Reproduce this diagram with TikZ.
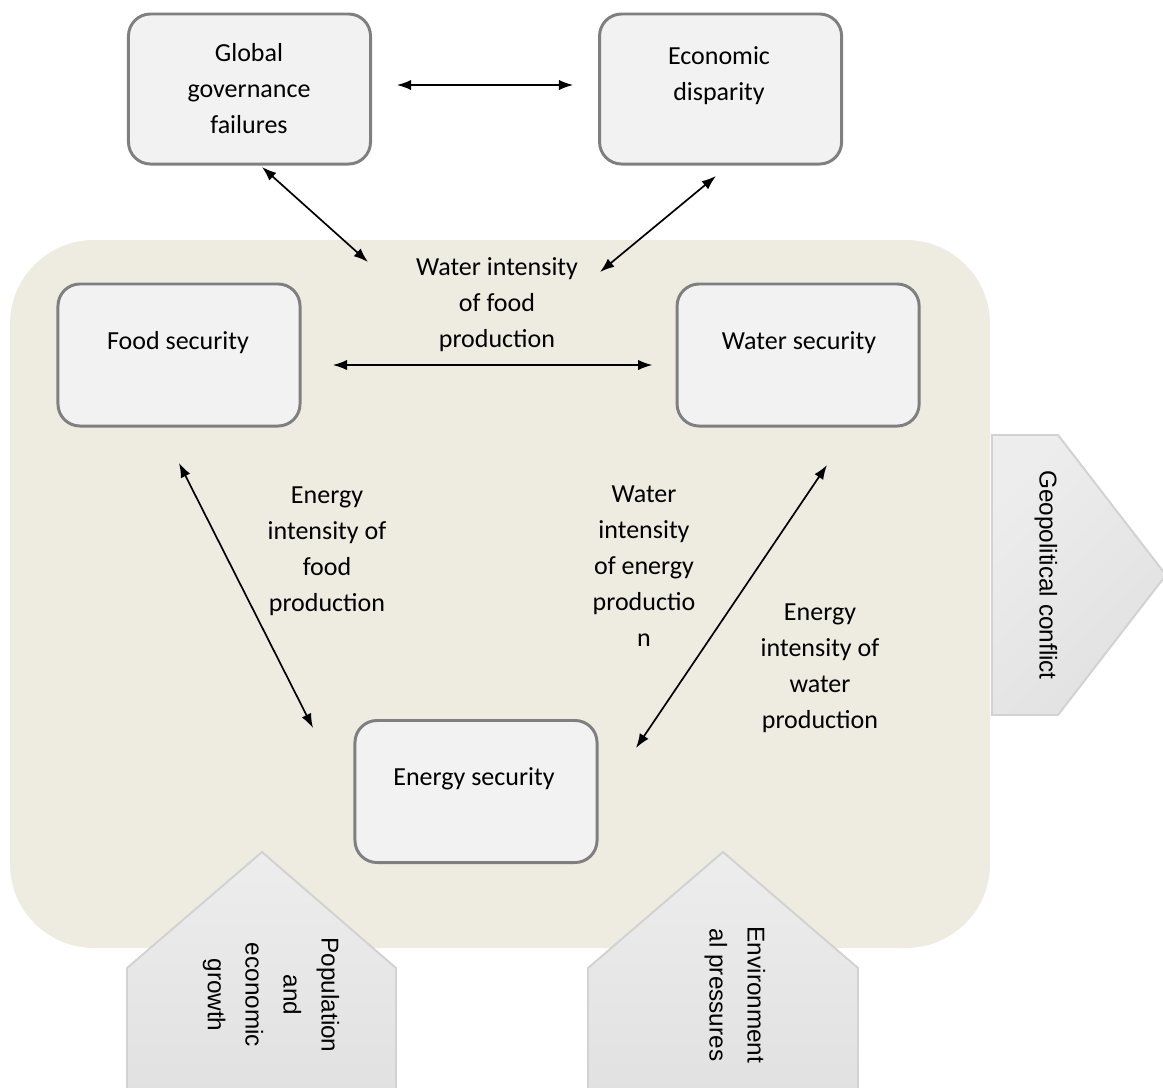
\documentclass[tikz,border=0pt]{standalone}
\usepackage{fontspec}
\setmainfont{Carlito}
\newfontfamily\arrowfont{Liberation Sans}
\usetikzlibrary{positioning,arrows.meta}

\definecolor{nexusbg}{HTML}{EEEBE0}
\definecolor{boxfill}{HTML}{F2F2F2}
\definecolor{boxline}{HTML}{7F7F7F}
\definecolor{drvline}{HTML}{D2D2D2}
\definecolor{drvtop}{HTML}{EDEDED}
\definecolor{drvbot}{HTML}{E1E1E1}

\begin{document}
\begin{tikzpicture}[x=0.025cm, y=-0.025cm,
	secbox/.style={draw=boxline, fill=boxfill, line width=2.1pt, rounded corners=0.55cm,
		minimum width=6.05cm, minimum height=3.55cm, inner sep=0pt},
	topbox/.style={secbox, minimum height=3.75cm},
	lbl/.style={align=center, font=\fontsize{18.5}{25.6}\selectfont, inner sep=0pt},
	drvtxt/.style={align=center, rotate=-90, font=\arrowfont\fontsize{17.3}{27}\selectfont, inner sep=0pt},
	driver/.style={draw=drvline, line width=1.4pt, top color=drvtop, bottom color=drvbot},
	link/.style={{Latex[length=0.36cm,width=0.26cm]}-{Latex[length=0.36cm,width=0.26cm]}, line width=1.2pt}]
	
	\useasboundingbox (0,0) rectangle (1163,1087);
	\clip (0,0) rectangle (1163,1087);
	
	% the nexus
	\fill[nexusbg, rounded corners=2.1cm] (10,240) rectangle (990,948);
	
	% drivers
	\draw[driver, shading angle=45] (992,435) -- (1058,435) -- (1166,575) -- (1058,715) -- (992,715) -- cycle;
	\draw[driver] (127,1095) -- (127,968) -- (262,852) -- (396,968) -- (396,1095) -- cycle;
	\draw[driver] (588,1095) -- (588,968) -- (723,852) -- (858,968) -- (858,1095) -- cycle;
	
	\node[drvtxt] (geo) at (1046,575) {Geopolitical conflict};
	\node[drvtxt] (pop) at (271,995) {Population\\and\\economic\\growth};
	\node[drvtxt] (env) at (735,995) {Environment\\al pressures};
	
	% boxes
	\node[topbox] (gov) at (249.5,89) {};
	\node[topbox, right=5.65cm of gov] (econ) {};
	\node[secbox] (food) at (179,355) {};
	\node[secbox, right=9.35cm of food] (water) {};
	\node[secbox] (energy) at (476,791.5) {};
	
	\node[lbl] (gov-t) at (249,89) {Global\\governance\\failures};
	\node[lbl] (econ-t) at (719,76) {Economic\\disparity};
	\node[lbl] (food-t) at (178,343) {Food security};
	\node[lbl] (water-t) at (799,343) {Water security};
	\node[lbl] (energy-t) at (474,779) {Energy security};
	
	% links
	\node[lbl] (wf) at (497,305) {Water intensity\\of food\\production};
	\node[lbl] (ef) at (327,551) {Energy\\intensity of\\food\\production};
	\node[lbl] (we) at (644,566) {Water\\intensity\\of energy\\productio\\n};
	\node[lbl] (ew) at (820,668) {Energy\\intensity of\\water\\production};
	
	\coordinate (gov-a) at (262,167);
	\coordinate (gov-b) at (368,262);
	\coordinate (econ-a) at (716,176);
	\coordinate (econ-b) at (600,272);
	\coordinate (fe-a) at (179,463);
	\coordinate (fe-b) at (313,728);
	\coordinate (we-a) at (827,465);
	\coordinate (we-b) at (636,748);
	
	\draw[link, shorten <=0.62cm, shorten >=0.62cm] ([yshift=0.1cm]gov.east) -- ([yshift=0.1cm]econ.west);
	\draw[link, shorten <=0.78cm, shorten >=0.58cm] ([yshift=-0.25cm]food.east) -- ([yshift=-0.25cm]water.west);
	\draw[link] (gov-a) -- (gov-b);
	\draw[link] (econ-a) -- (econ-b);
	\draw[link] (fe-a) -- (fe-b);
	\draw[link] (we-a) -- (we-b);
\end{tikzpicture}
\end{document}
